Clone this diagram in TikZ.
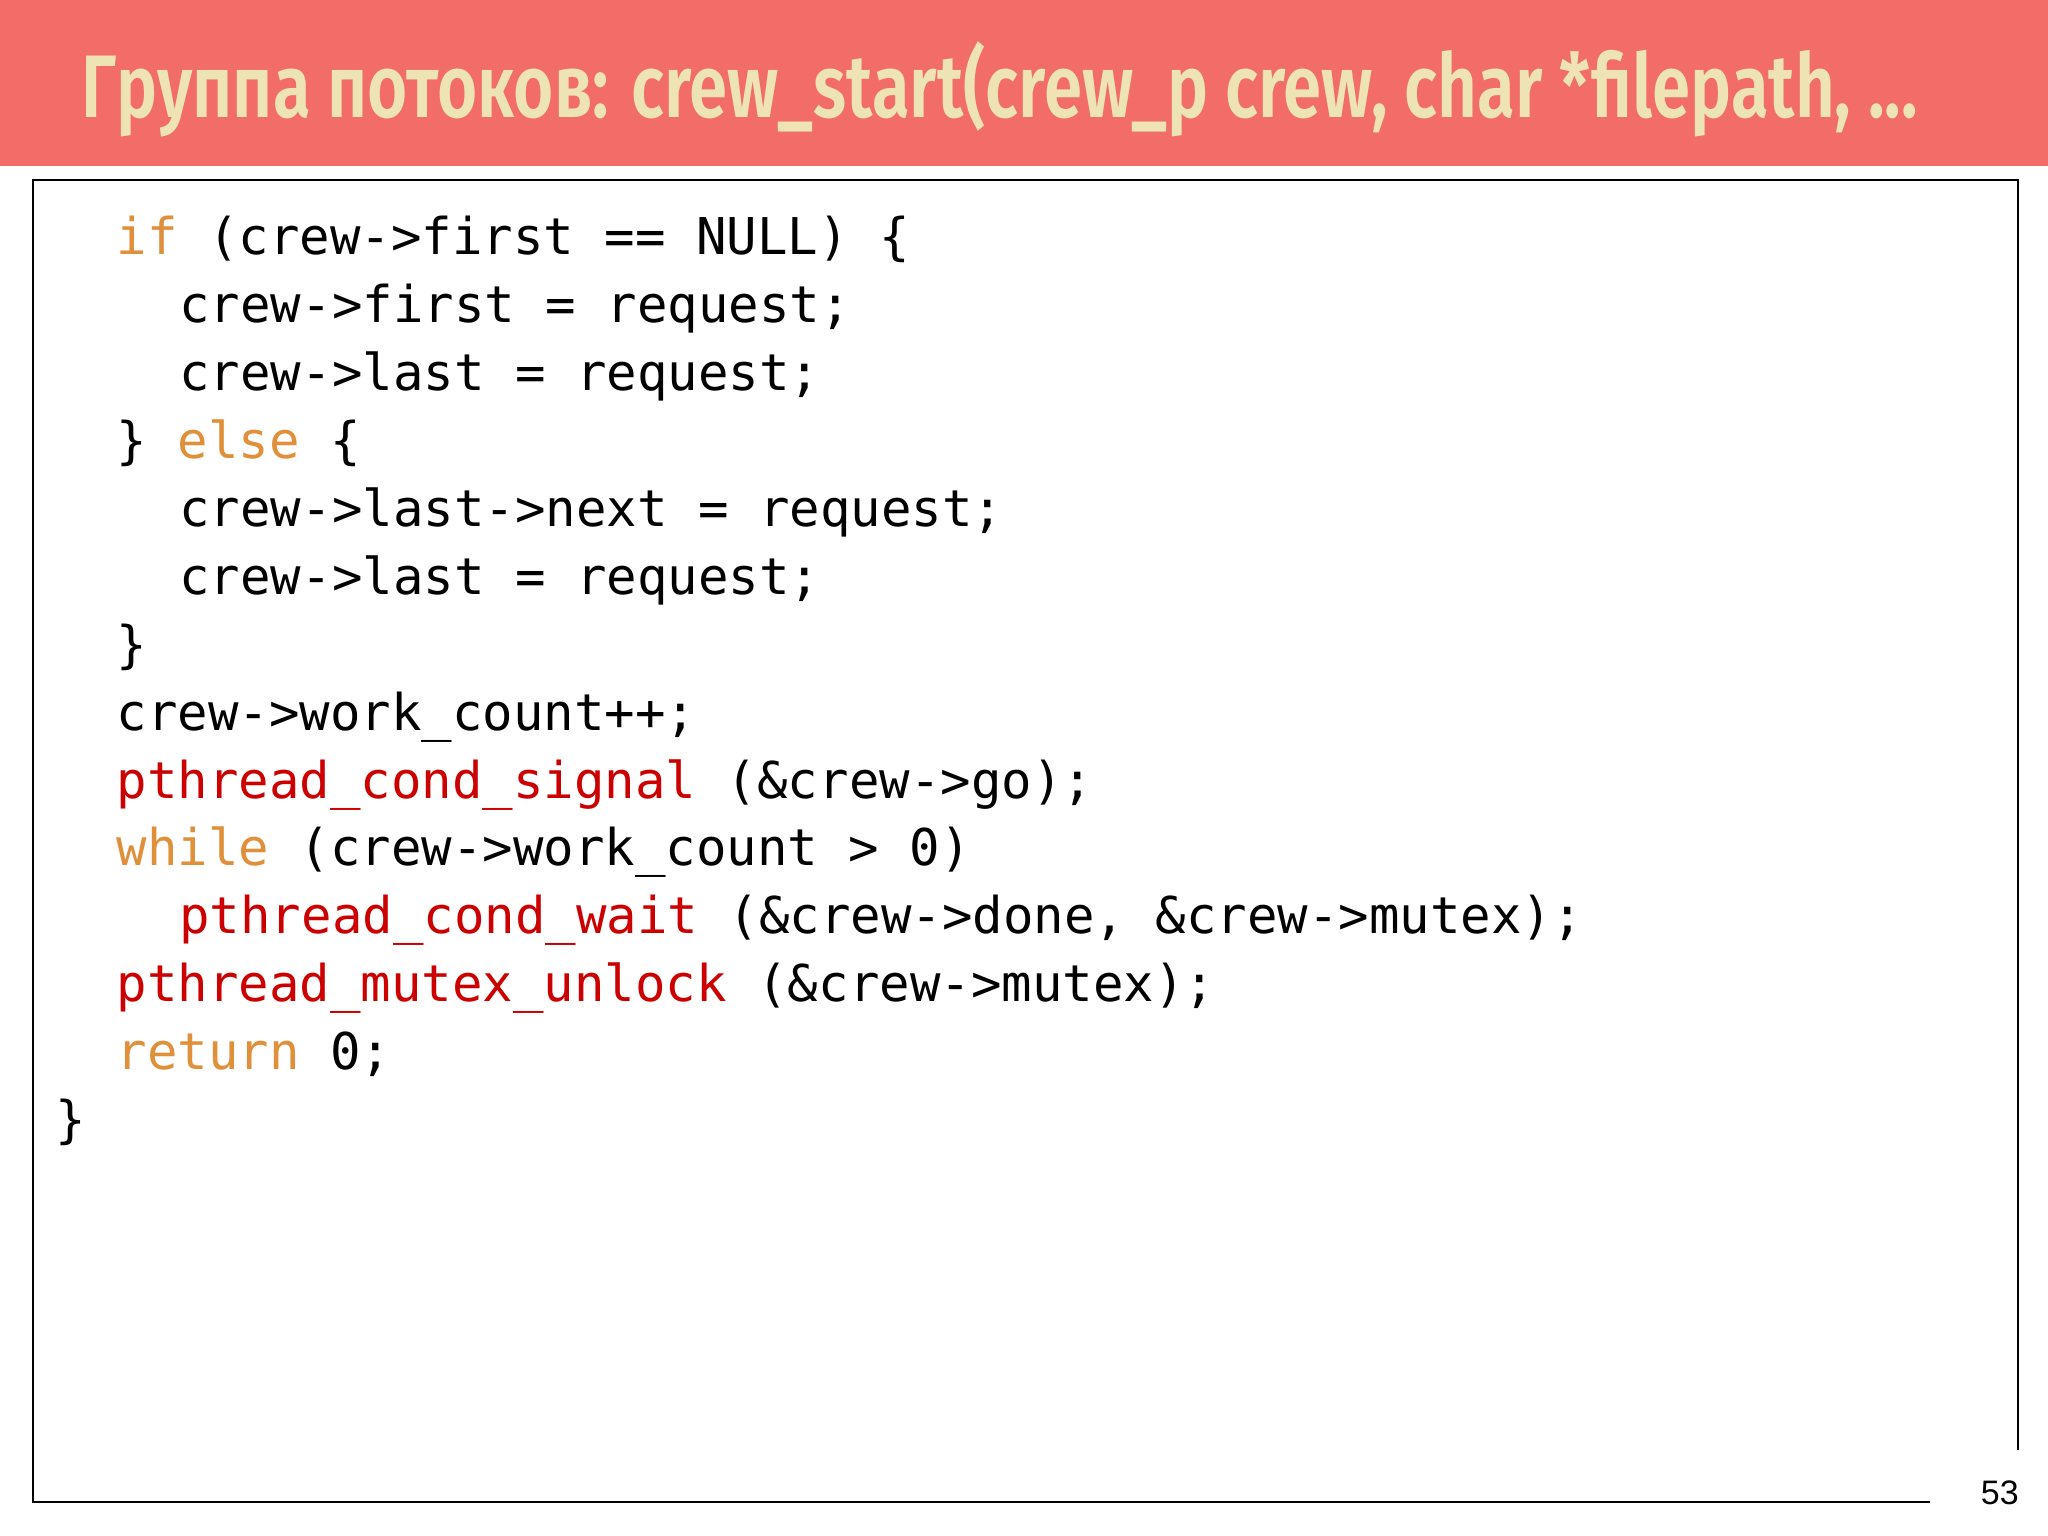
\documentclass[tikz,border=0pt]{standalone}
\usepackage{fontspec}
\setmainfont{Liberation Sans}
\setmonofont{DejaVu Sans Mono}
\newfontfamily\titlefont{Fira Sans SemiBold}
\definecolor{hdr}{HTML}{F26C68}
\definecolor{ttl}{HTML}{EDE3B3}
\definecolor{kw}{HTML}{E0903A}
\definecolor{fn}{HTML}{CC0000}
\begin{document}
\begin{tikzpicture}[x=0.5pt,y=-0.5pt,
  code/.style={anchor=base west,inner sep=0pt,font=\ttfamily\fontsize{19.4pt}{22pt}\selectfont},
]
\useasboundingbox (0,0) rectangle (1568,1176);
\fill[white] (0,0) rectangle (1568,1176);
\fill[hdr] (0,0) rectangle (1568,127);
\node[anchor=base west,inner sep=0pt,text=ttl] (title) at (62,90)
  {\resizebox{703pt}{\height}{\titlefont\fontsize{34pt}{40pt}\selectfont Группа потоков: crew\_start(crew\_p crew, char *filepath, ...}};
\draw[line width=0.8pt] (1478,1150) -- (25,1150) -- (25,138) -- (1545,138) -- (1545,1110);
\node[anchor=base east,inner sep=0pt,font=\fontsize{13pt}{15pt}\selectfont] (pg) at (1546,1152) {53};
\node[code] (l1) at (89,195) {\textcolor{kw}{if} (crew->first == NULL) \{};
\node[code] (l2) at (137,247) {crew->first = request;};
\node[code] (l3) at (137,299) {crew->last = request;};
\node[code] (l4) at (89,351) {\} \textcolor{kw}{else} \{};
\node[code] (l5) at (137,403) {crew->last->next = request;};
\node[code] (l6) at (137,455) {crew->last = request;};
\node[code] (l7) at (89,507) {\}};
\node[code] (l8) at (89,559) {crew->work\_count++;};
\node[code] (l9) at (89,611) {\textcolor{fn}{pthread\_cond\_signal} (\&crew->go);};
\node[code] (l10) at (89,663) {\textcolor{kw}{while} (crew->work\_count > 0)};
\node[code] (l11) at (137,715) {\textcolor{fn}{pthread\_cond\_wait} (\&crew->done, \&crew->mutex);};
\node[code] (l12) at (89,767) {\textcolor{fn}{pthread\_mutex\_unlock} (\&crew->mutex);};
\node[code] (l13) at (89,819) {\textcolor{kw}{return} 0;};
\node[code] (l14) at (42,871) {\}};
\end{tikzpicture}
\end{document}
